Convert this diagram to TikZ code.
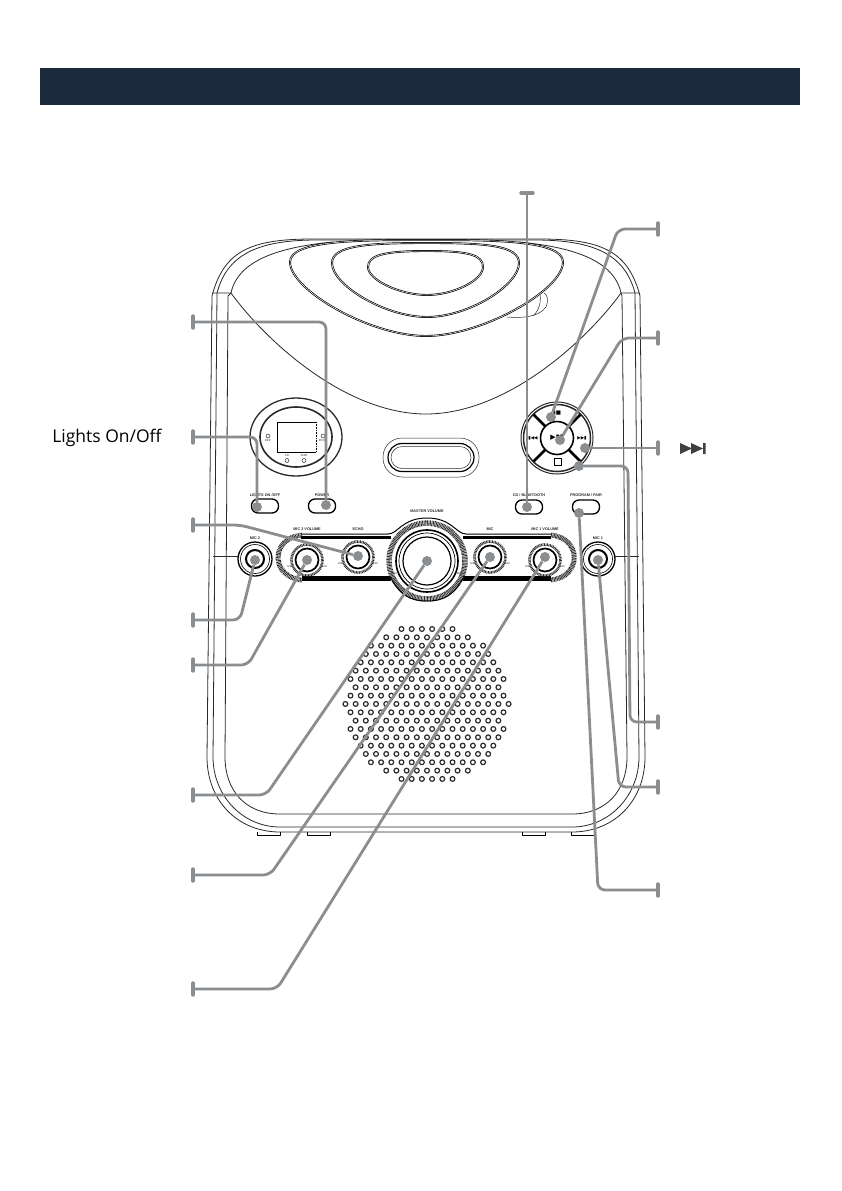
\documentclass[tikz,border=0pt]{standalone}
\usepackage{fontspec}
\setmainfont{Open Sans}
\newfontfamily\tinyfont{Liberation Sans}
\newfontfamily\symbfont{DejaVu Sans}
\usetikzlibrary{shapes,calc}
\definecolor{headbar}{HTML}{1C2A3E}
\definecolor{leadgray}{HTML}{8B8E91}
\definecolor{inkline}{HTML}{2A2A2A}

\begin{document}
\begin{tikzpicture}[x=1pt,y=-1pt]
\tikzstyle{every path}=[line join=round];
\tikzstyle{body}=[draw=inkline,line width=0.8pt];
\tikzstyle{ridge}=[draw=black,line width=0.7pt,double=white,double distance=0.5pt];
\tikzstyle{hatch}=[draw=inkline,dash pattern=on 0.8pt off 0.7pt];
\tikzstyle{caption}=[font=\tinyfont\fontsize{3.8}{4}\selectfont\bfseries,inner sep=0pt,text=inkline];
\tikzstyle{minmax}=[font=\tinyfont\fontsize{2.8}{3}\selectfont,inner sep=0pt,text=inkline];
\tikzstyle{press}=[draw=black,line width=1.3pt,rounded corners=6.5pt,minimum width=27pt,minimum height=14pt,inner sep=0pt];
\tikzstyle{dot}=[circle,fill=leadgray,minimum size=10pt,inner sep=0pt];
\tikzstyle{lead}=[draw=leadgray,line width=2.8pt,rounded corners=7pt];
\tikzstyle{tick}=[draw=leadgray,line width=3.4pt,line cap=round];
\useasboundingbox (0,0) rectangle (841,1191);
\fill[white] (0,0) rectangle (841,1191);
\node[fill=headbar,minimum width=760pt,minimum height=37pt,inner sep=0pt] (header) at (420,86.5) {};

% cabinet
\path[body] (313,239) -- (539,239) .. controls (600,239) and (628,250) .. (640,296) -- (645,757)
  .. controls (645,800) and (615,832) .. (572,832) -- (280,832)
  .. controls (237,832) and (207,800) .. (207,757) -- (212,296)
  .. controls (224,250) and (252,239) .. (313,239) -- cycle;
\path[body] (317,240) -- (535,240) .. controls (595,240) and (625,255) .. (635,293) -- (639,757)
  .. controls (639,795) and (610,827) .. (572,827) -- (280,827)
  .. controls (242,827) and (213,795) .. (213,757) -- (217,293)
  .. controls (227,255) and (257,240) .. (317,240) -- cycle;
\path[body] (333,242) .. controls (280,247) and (238,260) .. (231,293) -- (228,296) -- (225,757)
  .. controls (225,790) and (245,814) .. (280,814) -- (572,814)
  .. controls (607,814) and (627,790) .. (627,757) -- (622,296) -- (621,293)
  .. controls (614,260) and (572,247) .. (519,242);
\draw[body] (212,293) -- (231,293) .. controls (265,340) and (345,414) .. (426,414)
  .. controls (507,414) and (587,340) .. (621,293) -- (640,293);
\foreach \x in {257,307,522,571}
  \draw[draw=black,line width=1pt] (\x,832) -- (\x,835) -- (\x+23,835) -- (\x+23,832);

% lid
\path[ridge] (426,240) .. controls (360,240) and (290,240) .. (290,262) .. controls (290,290) and (370,336) .. (426,336)
  .. controls (482,336) and (563,290) .. (563,262) .. controls (563,240) and (492,240) .. (426,240);
\path[ridge] (427,243) .. controls (370,243) and (332,245) .. (332,263) .. controls (332,285) and (385,317) .. (427,317)
  .. controls (469,317) and (519,285) .. (519,263) .. controls (519,245) and (484,243) .. (427,243);
\path[ridge] (427,251) .. controls (385,251) and (368,255) .. (368,267) .. controls (368,280) and (400,295) .. (427,295)
  .. controls (454,295) and (483,280) .. (483,267) .. controls (483,255) and (469,251) .. (427,251);
\draw[body,line width=0.5pt] (507,317) .. controls (520,318) and (538,318) .. (546,307) .. controls (549,300) and (547,294) .. (544,293);
\draw[body,line width=0.5pt] (533,316) .. controls (540,310) and (541,300) .. (540,295);

% display
\node[draw=inkline,line width=1.3pt,ellipse,minimum width=92pt,minimum height=78pt,inner sep=0pt] (ringout) at (296,437) {};
\node[draw=inkline,line width=1.6pt,ellipse,minimum width=72pt,minimum height=60pt,inner sep=0pt] (ringin) at (296,437) {};
\draw[line width=0.6pt] (316,452) -- (277,452) -- (277,422) -- (316,422);
\draw[line width=0.6pt,densely dotted] (277,422) -- (277,452) (316,422) -- (316,452);
\node[minmax] (repeat) at (268,441) {REP.};
\node[minmax] (prog) at (323,441) {PROG};
\node[minmax] (cdlabel) at (287,456) {CD};
\node[minmax] (tape) at (304,456) {TAPE};
\draw[line width=0.4pt] (268,436) circle (2) (323,436) circle (2) (287,460.5) circle (2) (304,460.5) circle (2);

% disc slot
\node[draw=inkline,line width=0.5pt,minimum width=96pt,minimum height=39pt,rounded corners=19pt,inner sep=0pt] (slotout) at (431,457.5) {};
\node[draw=black,line width=1.2pt,minimum width=86pt,minimum height=28pt,rounded corners=14pt,inner sep=0pt] (slotmid) at (431,457.5) {};
\node[draw=inkline,line width=0.5pt,minimum width=80pt,minimum height=22pt,rounded corners=11pt,inner sep=0pt] (slotin) at (431,457.5) {};

% buttons
\node[press] (blights) at (265,506) {};
\node[press] (bpower) at (322,506) {};
\node[press] (bcd) at (529,507) {};
\node[press] (bprog) at (586,507) {};
\node[caption] at (265,495) {LIGHTS ON /OFF};
\node[caption] at (322,495) {POWER};
\node[caption] at (529,495) {CD / BLUETOOTH};
\node[caption] at (586,495) {PROGRAM / PAIR};

% transport pad
\coordinate (pad) at (557,438);
\draw[draw=inkline,line width=1pt] (pad) circle (36);
\draw[draw=inkline,line width=1.5pt] (pad) circle (33.5);
\foreach \a in {45,135,225,315}
  \draw[line width=2.6pt] ($(pad)+(\a:16)$) -- ($(pad)+(\a:33)$);
\draw[line width=1.6pt] (pad) circle (16.5);
\node[font=\symbfont\fontsize{5.5}{6}\selectfont,inner sep=0pt] (keystop) at (557,413) {▮■};
\node[font=\symbfont\fontsize{4.5}{5}\selectfont,inner sep=0pt] (keyprev) at (533,438) {▮◀◀};
\node[font=\symbfont\fontsize{4.5}{5}\selectfont,inner sep=0pt] (keynext) at (582,438) {▶▶▮};
\node[font=\symbfont\fontsize{7}{7}\selectfont,inner sep=0pt] (keyplay) at (557,438) {▶▮▮};
\node[draw=black,line width=0.7pt,minimum size=7pt,inner sep=0pt] (keyhalt) at (558,462) {};

% control strip
\draw[line width=1pt] (301,534) -- (388,534) .. controls (398,534) and (402,518) .. (427,518) .. controls (452,518) and (456,534) .. (466,534) -- (551,534);
\draw[line width=2.2pt] (301,537.5) -- (391,537.5) (463,537.5) -- (551,537.5);
\draw[line width=5pt] (302,578) -- (391,578) (463,578) -- (551,578);
\path[hatch,line width=5pt] (302,535) .. controls (270,538) and (270,577) .. (302,580);
\path[hatch,line width=5pt] (551,535) .. controls (582,538) and (582,577) .. (551,580);
\path[hatch,line width=5.5pt] (427,523) arc (-90:270:38);
\draw[line width=1pt] (391,578) .. controls (400,595) and (410,601) .. (427,601) .. controls (444,601) and (454,595) .. (463,578);
\node[caption] at (307,529) {MIC 2 VOLUME};
\node[caption] at (358,529) {ECHO};
\node[caption] at (427,511) {MASTER VOLUME};
\node[caption] at (490,529) {MIC};
\node[caption] at (545,529) {MIC 1 VOLUME};
\node[caption] at (255,538) {MIC 2};
\node[caption] at (598,538) {MIC 1};

% knobs and jacks
\foreach \x/\y in {307/560,358/557,490/557,545/560}{
  \path[hatch,line width=2.6pt] (\x,\y) circle (15.5);
  \draw[line width=1.7pt] (\x,\y) circle (11.5);
  \node[minmax] at (\x-17,\y+7) {MIN};
  \node[minmax] at (\x+17,\y+7) {MAX};
}
\draw[line width=1.6pt] (427,561) circle (31);
\draw[line width=0.7pt] (427,561) circle (28);
\draw[line width=1.2pt] (427,561) circle (24);
\node[minmax] at (394,574) {MIN};
\node[minmax] at (460,574) {MAX};
\foreach \x in {255,598}{
  \draw[line width=1.3pt] (\x,559) circle (17);
  \draw[line width=0.6pt] (\x,559) circle (14.5);
  \draw[line width=2pt] (\x,559) circle (9);
}
\draw[body] (213,556) -- (238,556) (615,556) -- (639,556);

% speaker holes
\foreach \n [count=\r] in {6,9,12,13,14,15,16,15,16,17,16,15,16,15,14,13,12,9,6}
  \foreach \i in {1,...,\n}
    \draw[draw=inkline,line width=1.2pt] ({427+(\i-(\n+1)/2)*10.2},{629+(\r-1)*8.33}) circle (2.4);

% call-outs
\coordinate (tlights) at (193,437);
\coordinate (tpower) at (193,322);
\coordinate (techo) at (193,525);
\coordinate (tmictwo) at (193,620);
\coordinate (tvoltwo) at (193,665);
\coordinate (tmaster) at (193,795);
\coordinate (tmic) at (193,875);
\coordinate (tvolone) at (193,989);
\coordinate (tcd) at (527,193);
\coordinate (tstop) at (658,229);
\coordinate (tplay) at (658,338);
\coordinate (tnext) at (658,448);
\coordinate (thalt) at (658,722);
\coordinate (tmicone) at (658,787);
\coordinate (tprog) at (658,890);
\node[dot] (dlights) at (257,507) {};
\node[dot] (dpower) at (326,505) {};
\node[dot] (decho) at (358,556) {};
\node[dot] (dmictwo) at (255,560) {};
\node[dot] (dvoltwo) at (307,560) {};
\node[dot] (dmaster) at (427,561) {};
\node[dot] (dmic) at (490,557) {};
\node[dot] (dvolone) at (545,557) {};
\node[dot] (dcd) at (527,507) {};
\node[dot] (dstop) at (551,417) {};
\node[dot] (dplay) at (560,440) {};
\node[dot] (dnext) at (585,448) {};
\node[dot] (dhalt) at (579,466) {};
\node[dot] (dmicone) at (598,560) {};
\node[dot] (dprog) at (579,513) {};
\foreach \t in {tlights,tpower,techo,tmictwo,tvoltwo,tmaster,tmic,tvolone,tstop,tplay,tnext,thalt,tmicone,tprog}
  \draw[tick] ($(\t)+(0,-6)$) -- ($(\t)+(0,6)$);
\draw[tick] ($(tcd)+(-6,0)$) -- ($(tcd)+(6,0)$);
\draw[lead] (tlights) -| (dlights);
\draw[lead] (tpower) -| (dpower);
\draw[lead] (tcd) -- (dcd);
\draw[lead] (techo) -- (240,525) -- (decho);
\draw[lead] (tmictwo) -- (240,620) -- (dmictwo);
\draw[lead] (tvoltwo) -- (248,665) -- (dvoltwo);
\draw[lead] (tmaster) -- (266,795) -- (dmaster);
\draw[lead] (tmic) -- (270,875) -- (dmic);
\draw[lead] (tvolone) -- (277,989) -- (dvolone);
\draw[lead] (tstop) -- (618,229) -- (dstop);
\draw[lead] (tplay) -- (622,338) -- (dplay);
\draw[lead] (tnext) -- (dnext);
\draw[lead] (dhalt) -- (628,466) -- (630,722) -- (thalt);
\draw[lead] (dmicone) -- (619,787) -- (tmicone);
\draw[lead] (dprog) -- (598,890) -- (tprog);

% labels
\node[font=\fontsize{17.5}{19}\selectfont,inner sep=0pt] (lights) at (107,438) {Lights On/Off};
\fill[black!75] (680,443) -- (692,448.5) -- (680,454) -- cycle (691,443) -- (703,448.5) -- (691,454) -- cycle (703,443) rectangle (705.5,454);
\end{tikzpicture}
\end{document}
